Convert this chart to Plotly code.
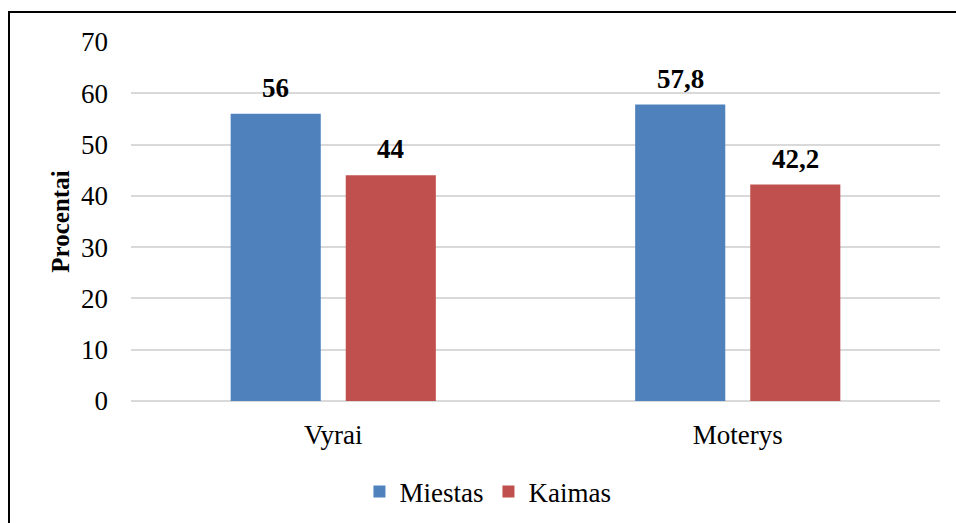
import plotly.graph_objects as go

categories = ["Vyrai", "Moterys"]
miestas = [56, 57.8]
kaimas = [44, 42.2]
miestas_labels = ["56", "57,8"]
kaimas_labels = ["44", "42,2"]
y_ticks = [0, 10, 20, 30, 40, 50, 60, 70]

BLUE = "#4F81BD"
RED = "#C0504D"
FONT = "Liberation Serif, Times New Roman, serif"

fig = go.Figure()
fig.add_trace(go.Bar(name="Miestas", x=categories, y=miestas, marker_color=BLUE,
                     marker_line_width=0))
fig.add_trace(go.Bar(name="Kaimas", x=categories, y=kaimas, marker_color=RED,
                     marker_line_width=0))

# value labels above each bar (bar offsets follow bargap/bargroupgap below)
bargap = 0.431
offset = (1 - bargap) / 4
for i, cat in enumerate(categories):
    for vals, labels, sign in ((miestas, miestas_labels, -1), (kaimas, kaimas_labels, 1)):
        fig.add_annotation(x=i + sign * offset, y=vals[i], text="<b>" + labels[i] + "</b>",
                           showarrow=False, yanchor="bottom", yshift=9,
                           font=dict(family=FONT, size=27, color="black"))

# outer frame
fig.add_shape(type="rect", xref="paper", yref="paper", x0=-0.1508, x1=1.1, y0=-0.6, y1=1.0836,
              line=dict(color="black", width=2), fillcolor="rgba(0,0,0,0)", layer="above")

fig.update_layout(
    width=956, height=523,
    margin=dict(l=131, r=16, t=42, b=122, autoexpand=False),
    paper_bgcolor="white", plot_bgcolor="white",
    barmode="group", bargap=bargap, bargroupgap=0.217,
    font=dict(family=FONT, size=27, color="black"),
    showlegend=True,
    legend=dict(orientation="h", xref="container", yref="container",
                x=0.376, xanchor="left", y=0.0593, yanchor="middle",
                font=dict(family=FONT, size=27, color="black"), itemwidth=30,
                traceorder="normal"),
    xaxis=dict(showgrid=False, showline=False, ticks="", ticklabelstandoff=15,
               automargin=False, tickfont=dict(family=FONT, size=27)),
    yaxis=dict(range=[0, 70], tickvals=y_ticks, showgrid=True, gridcolor="#d9d9d9",
               gridwidth=1.5, zeroline=True, zerolinecolor="#d9d9d9", zerolinewidth=1.5,
               showline=False, ticks="", ticklabelstandoff=22, automargin=False,
               tickfont=dict(family=FONT, size=27),
               title=dict(text="<b>Procentai</b>", font=dict(family=FONT, size=25), standoff=4)),
)

fig.write_html("out.html")
